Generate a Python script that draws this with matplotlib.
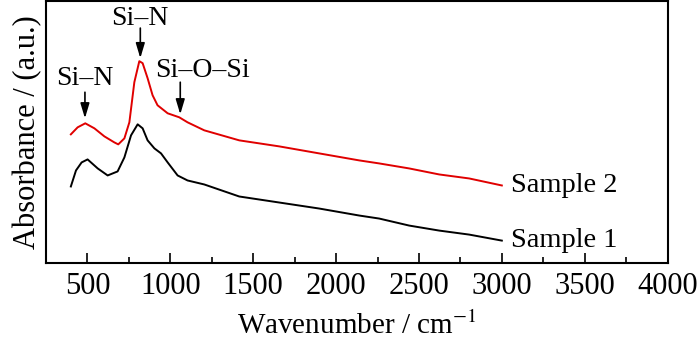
import matplotlib
matplotlib.use("Agg")
import matplotlib.pyplot as plt
from matplotlib.ticker import MultipleLocator, NullLocator

plt.rcParams['font.family'] = ['Liberation Serif', 'DejaVu Serif']
plt.rcParams['mathtext.fontset'] = 'stix'

# Sample 1 (black)
wn1 = [400, 431, 465, 501, 562, 622, 682, 723, 763, 803, 833, 863, 904, 944, 984,
       1044, 1104, 1205, 1416, 1657, 1898, 2140, 2260, 2441, 2622, 2803, 3000]
ab1 = [76, 92, 100, 103, 94, 87, 91, 105, 127, 138, 134, 122, 114, 109, 100,
       87, 82, 78, 66, 60, 54, 47, 44, 37, 32, 28, 22]

# Sample 2 (red)
wn2 = [400, 441, 487, 542, 602, 662, 686, 723, 753, 783, 813, 833, 863, 893, 923,
       984, 1054, 1104, 1205, 1416, 1657, 1898, 2140, 2260, 2441, 2622, 2803, 3000]
ab2 = [128, 135, 139, 134, 126, 120, 118, 124, 140, 180, 201, 199, 184, 167, 157,
       149, 145, 140, 132, 122, 116, 109, 102, 99, 94, 88, 84, 77]

series_labels = ["Sample 1", "Sample 2"]
ann_text = ["Si–N", "Si–N", "Si–O–Si"]
ann_text_x = [485, 819, 1197]
ann_text_y = [184, 244, 192]
ann_arrow_x = [485, 819, 1060]
ann_arrow_top = [170, 234, 180]
ann_arrow_tip = [144, 204, 148]

fig = plt.figure(figsize=(7.0, 3.42), dpi=100)
ax = fig.add_axes([0.0657, 0.232, 0.888, 0.765])

ax.plot(wn1, ab1, color='black', lw=1.4)
ax.plot(wn2, ab2, color='#e00000', lw=1.4)

ax.set_xlim(250, 4000)
ax.set_ylim(0, 261)
ax.set_xticks([500, 1000, 1500, 2000, 2500, 3000, 3500, 4000])
ax.xaxis.set_minor_locator(MultipleLocator(250))
ax.yaxis.set_major_locator(NullLocator())
ax.tick_params(axis='x', which='major', direction='in', length=7, width=1.2,
               labelsize=22, pad=7)
ax.tick_params(axis='x', which='minor', direction='in', length=4, width=1.2)
for s in ax.spines.values():
    s.set_linewidth(1.5)

ax.set_xlabel('Wavenumber / cm$^{-1}$', fontsize=21, labelpad=7)
ax.set_ylabel('Absorbance / (a.u.)', fontsize=22, labelpad=3)

ax.text(3055, ab1[-1], series_labels[0], fontsize=20.5, va='center', ha='left')
ax.text(3055, ab2[-1], series_labels[1], fontsize=20.5, va='center', ha='left')

for txt, tx, ty, axx, a0, a1 in zip(ann_text, ann_text_x, ann_text_y,
                                    ann_arrow_x, ann_arrow_top, ann_arrow_tip):
    ax.text(tx, ty, txt, fontsize=20, ha='center', va='center')
    ax.annotate('', xy=(axx, a1), xytext=(axx, a0),
                arrowprops=dict(arrowstyle='-|>,head_length=0.9,head_width=0.27',
                                color='black', lw=1.2, shrinkA=0, shrinkB=0))

fig.savefig('out.png', dpi=100)
